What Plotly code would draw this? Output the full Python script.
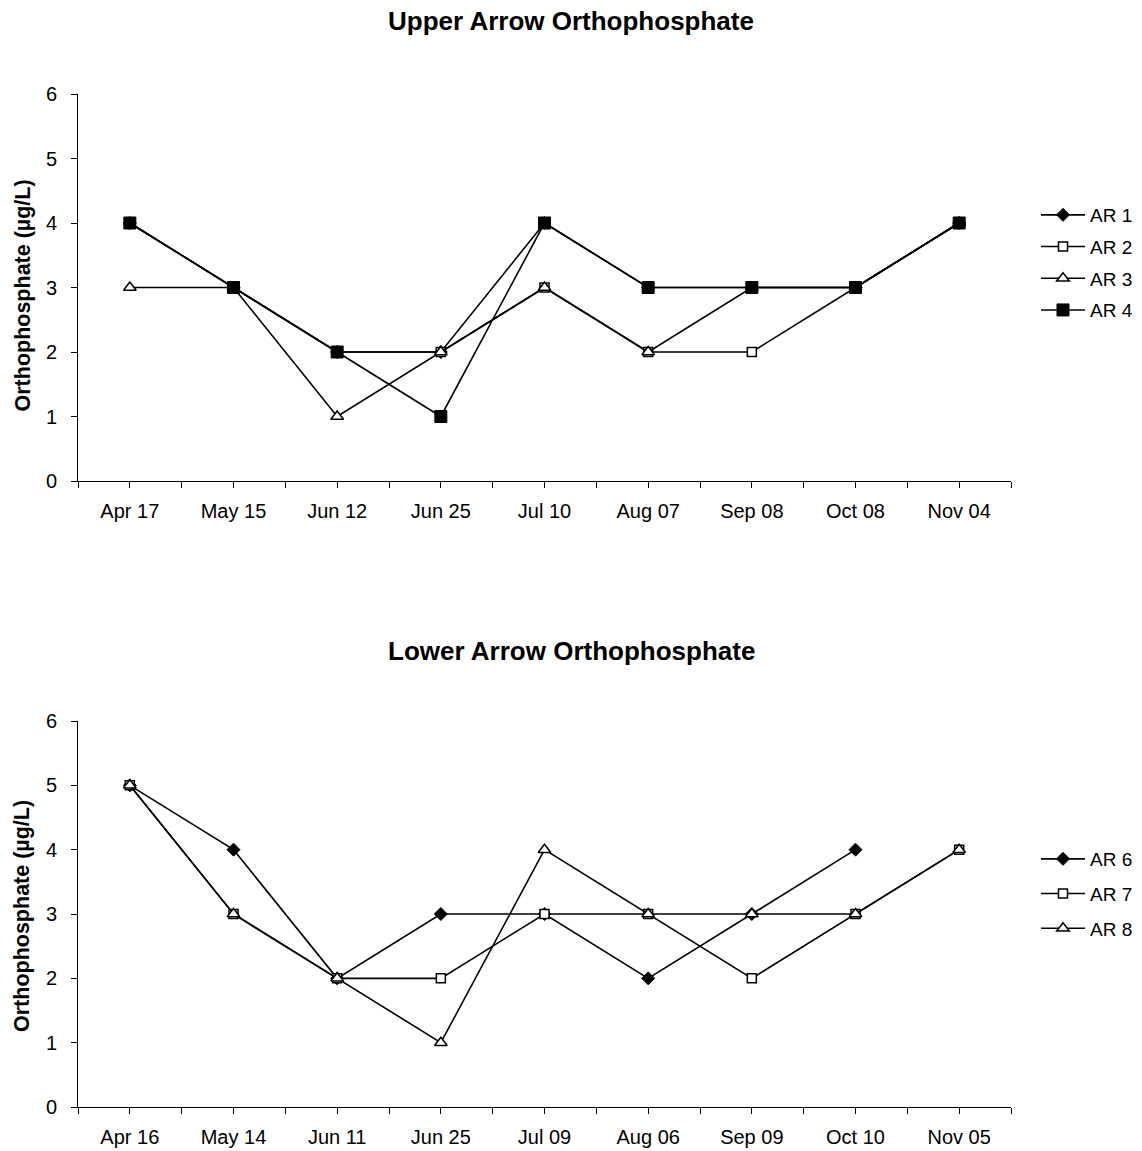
import plotly.graph_objects as go

# Upper Arrow sampling dates and orthophosphate readings (µg/L)
upper_dates = ["Apr 17", "May 15", "Jun 12", "Jun 25", "Jul 10", "Aug 07", "Sep 08", "Oct 08", "Nov 04"]
ar1 = [4, 3, 2, 2, 4, 3, 3, 3, 4]
ar2 = [4, 3, 2, 2, 3, 2, 2, 3, 4]
ar3 = [3, 3, 1, 2, 3, 2, 3, 3, 4]
ar4 = [4, 3, 2, 1, 4, 3, 3, 3, 4]

# Lower Arrow sampling dates and readings
lower_dates = ["Apr 16", "May 14", "Jun 11", "Jun 25", "Jul 09", "Aug 06", "Sep 09", "Oct 10", "Nov 05"]
ar6 = [5, 4, 2, 3, 3, 2, 3, 4, None]
ar7 = [5, 3, 2, 2, 3, 3, 2, 3, 4]
ar8 = [5, 3, 2, 1, 4, 3, 3, 3, 4]

y_ticks = [0, 1, 2, 3, 4, 5, 6]

W, H = 1142, 1151
L, R = 78, 131
FONT = "Arial, Liberation Sans, sans-serif"

def px_y(p):
    return 1 - p / H

def px_x(p):
    return (p - L) / (W - L - R)

STYLES = {
    "diamond": dict(symbol="diamond", size=10, color="black", line=dict(color="black", width=1)),
    "open_square": dict(symbol="square", size=9, color="white", line=dict(color="black", width=1.5)),
    "open_triangle": dict(symbol="triangle-up", size=11, color="white", line=dict(color="black", width=1.5)),
    "square": dict(symbol="square", size=12, color="black", line=dict(color="black", width=1)),
}

fig = go.Figure()

def add_series(name, values, n, style, xaxis, yaxis, legend, group):
    fig.add_trace(go.Scatter(
        x=list(range(n)), y=values, name=name, mode="lines+markers",
        line=dict(color="black", width=1.6), marker=STYLES[style],
        xaxis=xaxis, yaxis=yaxis, legend=legend, legendgroup=group,
        connectgaps=False,
    ))

n_up = len(upper_dates)
n_lo = len(lower_dates)
add_series("AR 1", ar1, n_up, "diamond", "x", "y", "legend", "a1")
add_series("AR 2", ar2, n_up, "open_square", "x", "y", "legend", "a2")
add_series("AR 3", ar3, n_up, "open_triangle", "x", "y", "legend", "a3")
add_series("AR 4", ar4, n_up, "square", "x", "y", "legend", "a4")
add_series("AR 6", ar6, n_lo, "diamond", "x2", "y2", "legend2", "b6")
add_series("AR 7", ar7, n_lo, "open_square", "x2", "y2", "legend2", "b7")
add_series("AR 8", ar8, n_lo, "open_triangle", "x2", "y2", "legend2", "b8")

def x_axis(labels, anchor):
    n = len(labels)
    return dict(
        range=[-0.5, n - 0.5], tickmode="array", tickvals=list(range(n)), ticktext=labels,
        ticks="outside", ticklen=6, tickcolor="black", tickwidth=1,
        minor=dict(tickmode="array", tickvals=[i - 0.5 for i in range(n + 1)],
                   ticks="outside", ticklen=6, tickcolor="black", tickwidth=1),
        showline=True, linecolor="black", linewidth=1, showgrid=False, zeroline=False,
        tickfont=dict(family=FONT, size=20, color="black"), ticklabelstandoff=6,
        anchor=anchor, domain=[0, 1], automargin=False,
    )

def y_axis(domain, anchor):
    return dict(
        range=[0, 6], tickmode="array", tickvals=y_ticks,
        ticks="outside", ticklen=6, tickcolor="black", tickwidth=1,
        showline=True, linecolor="black", linewidth=1, showgrid=False, zeroline=False,
        tickfont=dict(family=FONT, size=20, color="black"), ticklabelstandoff=10,
        anchor=anchor, domain=domain, automargin=False,
    )

legend_style = dict(
    font=dict(family=FONT, size=19, color="black"), bgcolor="rgba(0,0,0,0)",
    borderwidth=0, tracegroupgap=4, itemwidth=44, xanchor="left", yanchor="top",
    x=px_x(1036),
)

fig.update_layout(
    template="none",
    width=W, height=H, margin=dict(l=L, r=R, t=0, b=0, autoexpand=False),
    paper_bgcolor="white", plot_bgcolor="white", showlegend=True,
    xaxis=x_axis(upper_dates, "y"),
    yaxis=y_axis([px_y(481), px_y(94)], "x"),
    xaxis2=x_axis(lower_dates, "y2"),
    yaxis2=y_axis([px_y(1107), px_y(721)], "x2"),
    legend=dict(legend_style, y=px_y(196)),
    legend2=dict(legend_style, y=px_y(840), tracegroupgap=7),
)

titles = [("Upper Arrow Orthophosphate", 21), ("Lower Arrow Orthophosphate", 651)]
for text, ypx in titles:
    fig.add_annotation(text=f"<b>{text}</b>", xref="paper", yref="paper",
                       x=px_x(W / 2), y=px_y(ypx), showarrow=False,
                       xanchor="center", yanchor="middle",
                       font=dict(family=FONT, size=26, color="black"))

for ypx in [(94 + 481) / 2 + 8, (721 + 1107) / 2 + 2]:
    fig.add_annotation(text="<b>Orthophosphate (µg/L)</b>", xref="paper", yref="paper",
                       x=px_x(22), y=px_y(ypx), showarrow=False, textangle=-90,
                       xanchor="center", yanchor="middle",
                       font=dict(family=FONT, size=21.5, color="black"))

fig.write_html("out.html")
